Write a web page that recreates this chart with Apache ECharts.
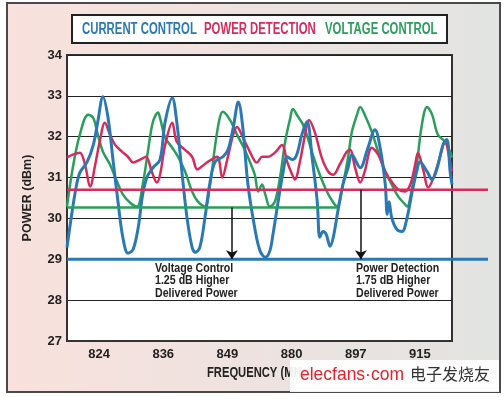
<!DOCTYPE html>
<html>
<head>
<meta charset="utf-8">
<script src="https://cdn.jsdelivr.net/npm/echarts@6/dist/echarts.min.js"></script>
<style>
  html, body { margin: 0; padding: 0; background: #fff; }
  #chart { width: 504px; height: 397px; }
</style>
</head>
<body>
<div id="chart"></div>
<script>
// frequency slots (category labels under the plot)
var freqLabels = ['824', '836', '849', '880', '897', '915'];
var yTicks = [27, 28, 29, 30, 31, 32, 33, 34];
var seriesNames = ['CURRENT CONTROL', 'POWER DETECTION', 'VOLTAGE CONTROL'];

// x is measured in frequency slots (0..6), y in dBm
var currentControl = [
  [0, 29.29], [0.05, 29.85], [0.13, 30.66], [0.20, 31.12], [0.31, 31.37], [0.41, 31.80],
  [0.48, 32.37], [0.56, 32.98], [0.64, 32.46], [0.72, 31.39], [0.80, 30.34], [0.87, 29.54],
  [0.95, 29.15], [1.03, 29.24], [1.11, 29.78], [1.18, 30.59], [1.25, 31.02], [1.34, 31.24],
  [1.45, 31.44], [1.53, 32.37], [1.64, 32.95], [1.71, 32.37], [1.79, 31.15], [1.87, 30.02],
  [1.95, 29.29], [2.00, 29.17], [2.07, 29.29], [2.15, 30.02], [2.23, 30.90], [2.31, 31.39],
  [2.43, 31.51], [2.51, 31.68], [2.59, 32.22], [2.67, 32.85], [2.74, 32.22], [2.82, 30.83],
  [2.93, 29.73], [3.01, 29.20], [3.09, 29.05], [3.16, 29.20], [3.21, 29.61], [3.29, 30.41],
  [3.37, 31.15], [3.43, 31.51], [3.51, 31.44], [3.58, 31.56], [3.66, 32.05], [3.74, 32.37],
  [3.82, 31.49], [3.90, 30.41], [3.94, 29.54], [3.99, 29.68], [4.04, 29.61], [4.10, 29.32],
  [4.15, 29.54], [4.22, 30.17], [4.30, 30.83], [4.38, 31.24], [4.44, 31.56], [4.57, 31.24],
  [4.68, 31.68], [4.80, 32.17], [4.88, 31.73], [4.96, 30.83], [4.99, 30.10], [5.02, 30.41],
  [5.06, 30.02], [5.14, 29.73], [5.22, 29.68], [5.30, 30.02], [5.38, 30.66], [5.45, 31.15],
  [5.50, 31.39], [5.61, 31.15], [5.69, 30.95], [5.77, 31.24], [5.86, 31.80], [5.92, 31.93],
  [5.97, 31.15], [6.00, 30.83]
];
var powerDetection = [
  [0, 31.49], [0.09, 31.56], [0.20, 31.61], [0.28, 31.32], [0.36, 30.78], [0.44, 31.32],
  [0.51, 31.88], [0.59, 32.34], [0.67, 32.05], [0.75, 31.80], [0.86, 31.63], [0.95, 31.51],
  [1.03, 31.37], [1.14, 31.44], [1.23, 31.51], [1.32, 31.15], [1.40, 30.88], [1.45, 31.07],
  [1.53, 31.80], [1.64, 32.34], [1.71, 31.88], [1.84, 31.68], [1.95, 31.51], [2.03, 31.20],
  [2.10, 31.27], [2.20, 31.39], [2.34, 31.51], [2.42, 31.00], [2.49, 31.39], [2.59, 32.05],
  [2.65, 32.24], [2.74, 31.98], [2.85, 31.63], [2.93, 31.39], [2.96, 31.37], [3.04, 31.51],
  [3.13, 31.51], [3.24, 31.61], [3.35, 31.80], [3.43, 31.39], [3.51, 31.07], [3.55, 30.95],
  [3.63, 31.39], [3.71, 32.05], [3.77, 32.41], [3.86, 32.12], [3.97, 31.49], [4.07, 31.15],
  [4.15, 31.07], [4.25, 31.32], [4.36, 31.63], [4.41, 31.68], [4.49, 31.24], [4.57, 30.88],
  [4.64, 31.15], [4.75, 31.73], [4.85, 31.56], [4.96, 31.15], [5.06, 30.90], [5.16, 30.71],
  [5.27, 30.66], [5.35, 30.83], [5.42, 31.27], [5.47, 31.61], [5.55, 31.20], [5.63, 30.76],
  [5.70, 30.95], [5.81, 31.49], [5.89, 31.88], [5.97, 31.39], [6.00, 31.15]
];
var voltageControl = [
  [0, 30.29], [0.09, 31.24], [0.20, 32.05], [0.33, 32.54], [0.41, 32.46], [0.48, 32.05],
  [0.56, 31.63], [0.67, 31.32], [0.78, 30.90], [0.87, 30.59], [0.98, 30.39], [1.09, 30.29],
  [1.18, 30.83], [1.26, 31.63], [1.34, 32.37], [1.42, 32.59], [1.45, 32.46], [1.53, 31.98],
  [1.64, 31.73], [1.73, 31.51], [1.84, 31.15], [1.95, 30.66], [2.04, 30.41], [2.15, 30.29],
  [2.23, 30.83], [2.31, 31.80], [2.38, 32.46], [2.43, 32.61], [2.54, 32.41], [2.65, 32.05],
  [2.77, 31.68], [2.88, 31.27], [2.93, 31.05], [2.98, 30.66], [3.04, 30.83], [3.09, 30.59],
  [3.16, 30.29], [3.24, 30.41], [3.32, 31.00], [3.40, 31.88], [3.48, 32.46], [3.52, 32.68],
  [3.60, 32.49], [3.68, 32.29], [3.76, 31.93], [3.83, 31.56], [3.94, 31.07], [4.05, 30.66],
  [4.15, 30.39], [4.21, 30.29], [4.30, 30.83], [4.38, 31.49], [4.44, 32.12], [4.52, 32.54],
  [4.57, 32.73], [4.64, 32.54], [4.75, 32.12], [4.85, 31.63], [4.96, 31.15], [5.06, 30.83],
  [5.16, 30.54], [5.27, 30.34], [5.30, 30.29], [5.38, 30.76], [5.45, 31.32], [5.53, 32.29],
  [5.61, 32.73], [5.69, 32.54], [5.78, 32.05], [5.89, 31.88], [5.97, 31.63], [6.00, 31.49]
];

// worst-case levels for each method (these two run past the plot's right edge)
var currentFloor = [[0, 29.0], [6.56, 29.0]];
var powerFloor = [[0, 30.7], [6.56, 30.7]];
var voltageFloor = [[0, 30.27], [4.22, 30.27]];

// gain arrows: [x, from, to]
var voltageArrow = [2.57, 30.27, 29.0];
var powerArrow = [4.58, 30.7, 29.0];

var BLUE = '#2a79b5', RED = '#d62b5c', GREEN = '#2a9e5a';
var FONT = '"Liberation Sans", Arial, sans-serif';

var chart = echarts.init(document.getElementById('chart'));

function arrow(a) {
  return [{ coord: [a[0], a[1]] }, { coord: [a[0], a[2]] }];
}

// narrow bold text (the original uses a condensed face)
function narrow(x, y, txt, size, color, sx, extra) {
  var st = { text: txt, font: 'bold ' + size + 'px ' + FONT, fill: color, align: 'left', verticalAlign: 'middle' };
  for (var k in extra) st[k] = extra[k];
  return { type: 'text', x: x, y: y, scaleX: sx, silent: true, z: 50, style: st };
}

var legendColors = [BLUE, RED, GREEN];
var legendX = [82, 204, 325];

var graphics = [
  {
    type: 'rect', z: -10, silent: true,
    shape: { x: 7, y: 3, width: 493, height: 389 },
    style: {
      fill: new echarts.graphic.LinearGradient(0, 0, 1, 0, [
        { offset: 0, color: '#f9e1dd' }, { offset: 1, color: '#e2e4e2' }
      ]),
      stroke: '#4a4a4a', lineWidth: 2
    }
  },
  {
    type: 'rect', z: 40, silent: true,
    shape: { x: 72, y: 15, width: 375, height: 28 },
    style: { fill: '#fff', stroke: '#222', lineWidth: 2 }
  },
  narrow(155, 262, 'Voltage Control\n1.25 dB Higher\nDelivered Power', 12.5, '#222', 0.85,
    { verticalAlign: 'top', lineHeight: 12.5 }),
  narrow(356, 262, 'Power Detection\n1.75 dB Higher\nDelivered Power', 12.5, '#222', 0.85,
    { verticalAlign: 'top', lineHeight: 12.5 }),
  narrow(207, 373, 'FREQUENCY (MHz)', 14, '#222', 0.8, {}),
  {
    type: 'rect', z: 100, silent: true,
    shape: { x: 290, y: 360, width: 209, height: 32 },
    style: { fill: 'rgba(255,255,255,0.92)' }
  },
  {
    type: 'text', z: 101, x: 300, y: 365, scaleX: 0.92, silent: true,
    style: { text: 'elecfans·com', font: '19px "Liberation Sans", Arial, sans-serif', fill: '#e3222d' }
  },
  {
    type: 'text', z: 101, x: 410, y: 366, silent: true,
    style: { text: '电子发烧友', font: '16px "Noto Sans CJK SC", sans-serif', fill: '#333' }
  }
];
seriesNames.forEach(function (n, i) {
  graphics.push(narrow(legendX[i], 29.5, n, 16, legendColors[i], 0.71, {}));
});

chart.setOption({
  animation: false,
  textStyle: { fontFamily: FONT },
  graphic: graphics,
  grid: [
    { left: 67, right: 52, top: 55, bottom: 56, show: true, backgroundColor: '#fff', borderColor: '#333', borderWidth: 2 },
    { left: 67, right: 16, top: 55, bottom: 56, show: false }
  ],
  xAxis: [
    { type: 'value', min: 0, max: 6, show: false, gridIndex: 0 },
    {
      type: 'category', data: freqLabels, position: 'bottom', gridIndex: 0,
      axisLine: { lineStyle: { color: '#333', width: 2 } },
      axisTick: { inside: true, length: 5, lineStyle: { color: '#333', width: 1.5 } },
      axisLabel: { fontSize: 13, fontWeight: 'bold', color: '#222', margin: 7 },
      splitLine: { show: false }
    },
    { type: 'value', min: 0, max: 6.56, show: false, gridIndex: 1 }
  ],
  yAxis: [
    {
      type: 'value', min: yTicks[0], max: yTicks[yTicks.length - 1], interval: 1, gridIndex: 0,
      name: 'POWER (dBm)', nameLocation: 'middle', nameGap: 33,
      nameTextStyle: { fontSize: 12.5, fontWeight: 'bold', color: '#222' },
      axisLine: { show: true, lineStyle: { color: '#333', width: 2 } },
      axisTick: { show: false },
      axisLabel: { fontSize: 13, fontWeight: 'bold', color: '#222', margin: 5 },
      splitLine: { lineStyle: { color: '#222', width: 1 } }
    },
    { type: 'value', min: yTicks[0], max: yTicks[yTicks.length - 1], gridIndex: 1, show: false }
  ],
  series: [
    {
      name: seriesNames[2], type: 'line', data: voltageControl,
      showSymbol: false, smooth: 0.35, lineStyle: { color: GREEN, width: 2.5 }, itemStyle: { color: GREEN }
    },
    {
      name: seriesNames[1], type: 'line', data: powerDetection,
      showSymbol: false, smooth: 0.35, lineStyle: { color: RED, width: 2.5 }, itemStyle: { color: RED }
    },
    {
      name: seriesNames[0], type: 'line', data: currentControl,
      showSymbol: false, smooth: 0.35, lineStyle: { color: BLUE, width: 3 }, itemStyle: { color: BLUE }
    },
    {
      name: 'voltage floor', type: 'line', data: voltageFloor,
      showSymbol: false, lineStyle: { color: GREEN, width: 2.5 }
    },
    {
      name: 'power floor', type: 'line', xAxisIndex: 2, yAxisIndex: 1, data: powerFloor,
      showSymbol: false, lineStyle: { color: RED, width: 2.5 }
    },
    {
      name: 'current floor', type: 'line', xAxisIndex: 2, yAxisIndex: 1, data: currentFloor,
      showSymbol: false, lineStyle: { color: BLUE, width: 3 }
    },
    {
      name: 'gain arrows', type: 'line', data: [], z: 5,
      markLine: {
        silent: true, symbol: ['none', 'arrow'], symbolSize: 9,
        label: { show: false }, emphasis: { disabled: true },
        lineStyle: { color: '#111', width: 1.5, type: 'solid' },
        data: [arrow(voltageArrow), arrow(powerArrow)]
      }
    }
  ]
});
</script>
</body>
</html>
